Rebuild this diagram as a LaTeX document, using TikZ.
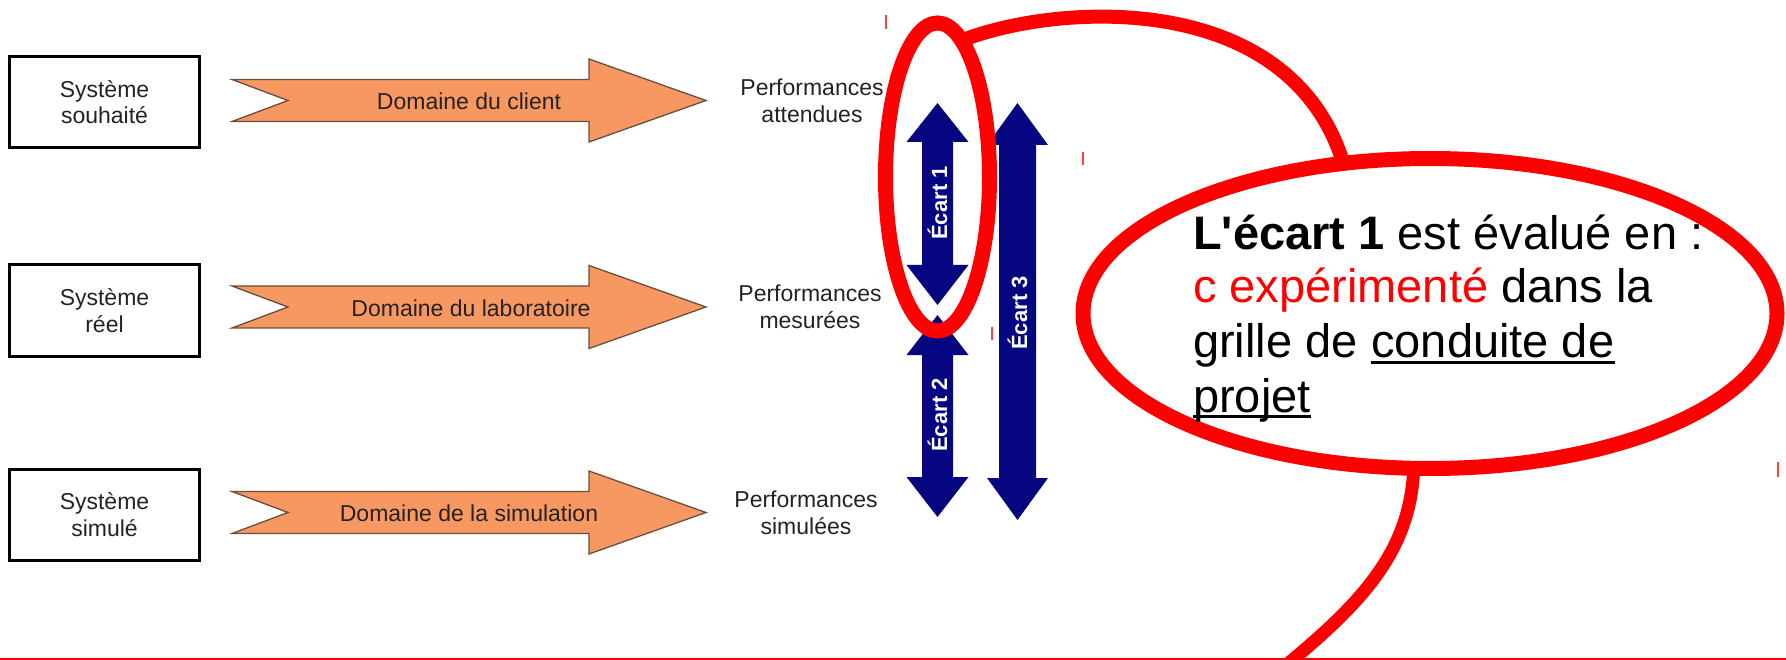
\documentclass[tikz,border=0pt]{standalone}
\usepackage{fontspec}
\setmainfont{Liberation Sans}
\usetikzlibrary{shapes.geometric}

\definecolor{arrowfill}{RGB}{247,152,98}
\definecolor{arrowedge}{RGB}{105,80,62}
\definecolor{gapblue}{RGB}{6,6,128}
\definecolor{inkgray}{RGB}{38,34,34}
\definecolor{hlred}{RGB}{255,0,0}

\pgfdeclarelayer{paper}
\pgfdeclarelayer{tails}
\pgfsetlayers{paper,tails,main}

% orange "domain" arrow with a notched tail; #1 = name of its centre, #2 = centre line
\newcommand\domainarrow[2]{%
  \draw[domarrow] (232,#2-21) -- (589,#2-21) -- (589,#2-41.5) -- (706,#2)
    -- (589,#2+41.5) -- (589,#2+21) -- (232,#2+21) -- (288,#2) -- cycle;
  \coordinate (#1) at (469,#2);
}

% vertical double-headed arrow:
% #1 centre x, #2 half shaft, #3 half head, #4 top tip, #5 top head base,
% #6 bottom head base, #7 bottom tip
\newcommand\gaparrowpath[7]{%
  \fill[gapblue] (#1,#4) -- (#1+#3,#5) -- (#1+#2,#5) -- (#1+#2,#6) -- (#1+#3,#6)
    -- (#1,#7) -- (#1-#3,#6) -- (#1-#2,#6) -- (#1-#2,#5) -- (#1-#3,#5) -- cycle;
}

\begin{document}
\begin{tikzpicture}[x=1pt,y=-1pt,
  sysbox/.style={draw=black, line width=3pt, minimum width=190pt, minimum height=91pt,
    inner sep=0pt, align=center, text=inkgray, font=\fontsize{23}{26.5}\selectfont},
  perf/.style={align=center, inner sep=0pt, text=inkgray, font=\fontsize{23}{27}\selectfont},
  domlabel/.style={inner sep=0pt, text=inkgray, font=\fontsize{23}{26}\selectfont},
  domarrow/.style={fill=arrowfill, draw=arrowedge, line width=1.3pt, line join=miter},
  gaplabel/.style={text=white, rotate=90, inner sep=0pt, font=\bfseries\fontsize{22}{26}\selectfont},
  hl/.style={draw=hlred, line width=15pt},
  calltext/.style={anchor=base west, inner sep=0pt, text=black, font=\fontsize{47}{54}\selectfont},
  ul/.style={draw=black, line width=3pt},
  tick/.style={draw=hlred!75, line width=1.2pt},
]
\begin{pgfonlayer}{paper}
  \fill[white] (0,0) rectangle (1786,660);
\end{pgfonlayer}
\useasboundingbox (0,0) rectangle (1786,660);

% systems
\node[sysbox] (s1) at (104.5,102)   {Système\\souhaité};
\node[sysbox] (s2) at (104.5,310.5) {Système\\réel};
\node[sysbox] (s3) at (104.5,514.5) {Système\\simulé};

% domains
\domainarrow{a1}{100.5}
\domainarrow{a2}{307}
\domainarrow{a3}{512.5}
\node[domlabel] (d1) at ([yshift=-1pt]a1) {Domaine du client};
\node[domlabel] (d2) at ([xshift=2pt,yshift=-1pt]a2) {Domaine du laboratoire};
\node[domlabel] (d3) at ([yshift=-1pt]a3) {Domaine de la simulation};

% performances
\node[perf] (p1) at (812,100.5) {Performances\\attendues};
\node[perf] (p2) at (810,307)   {Performances\\mesurées};
\node[perf] (p3) at (806,513)   {Performances\\simulées};

% gaps
\gaparrowpath{937.5}{15.5}{31}{103}{142}{265}{305}
\gaparrowpath{937.5}{15.5}{31}{315}{355}{477}{517}
\gaparrowpath{1017.5}{18.5}{30.5}{103}{145}{478}{520}
\node[gaplabel] (e1) at (937.5,203)  {Écart 1};
\node[gaplabel] (e2) at (937.5,415)  {Écart 2};
\node[gaplabel] (e3) at (1017.5,313) {Écart 3};

% highlight and call-out
\node[hl, ellipse, minimum width=104pt, minimum height=308pt, inner sep=0pt, outer sep=0pt]
  (focus) at (937.5,177) {};
\node[hl, ellipse, fill=white, minimum width=694pt, minimum height=310pt, inner sep=0pt, outer sep=0pt]
  (note) at (1430,313.5) {};
\coordinate (tailend) at (1262,685);
\begin{pgfonlayer}{tails}
  \clip (0,0) rectangle (1786,660);
  \draw[hl, line width=14pt] (focus.80) .. controls (1060,2) and (1290,-10) .. (note.120);
  \draw[hl, line width=13pt] (note.264) .. controls (1410,560) and (1352,612) .. (tailend);
\end{pgfonlayer}

\node[calltext] (n1) at (1193,250) {\textbf{L\textquotesingle écart 1} est évalué en :};
\node[calltext] (n2) at (1193,303) {\textcolor{hlred}{c expérimenté} dans la};
\node[calltext] (n3a) at (1193,358) {grille de\ \null};
\node[calltext] (n3b) at (n3a.base east) {conduite de};
\node[calltext] (n4) at (1193,412) {projet};
\draw[ul] ([yshift=-4.5pt]n3b.base west) -- ([yshift=-4.5pt]n3b.base east);
\draw[ul] ([yshift=-4.5pt]n4.base west) -- ([yshift=-4.5pt]n4.base east);

% bottom rule and small marks
\coordinate (ruleL) at (0,658.8);
\coordinate (ruleR) at (1786,658.8);
\draw[draw=hlred, line width=2.4pt] (ruleL) -- (ruleR);
\draw[tick] (886,15) -- (886,29);
\draw[tick] (1083,152) -- (1083,165);
\draw[tick] (992,327) -- (992,340);
\draw[tick] (1778,462) -- (1778,477);
\end{tikzpicture}
\end{document}
